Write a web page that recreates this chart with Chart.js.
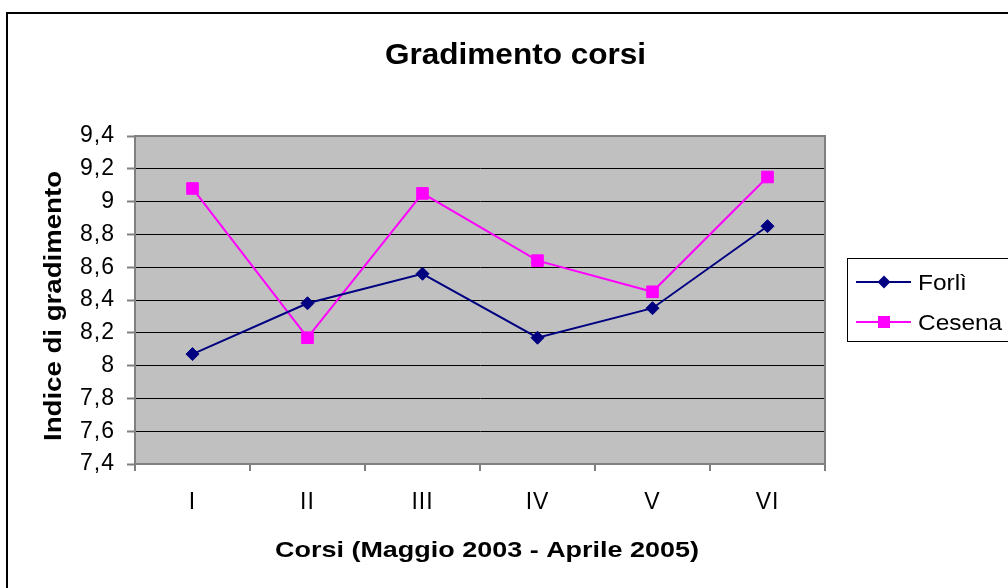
<!DOCTYPE html>
<html><head><meta charset="utf-8">
<script src="https://cdn.jsdelivr.net/npm/chart.js@4/dist/chart.umd.min.js"></script>
<style>html,body{margin:0;padding:0;background:#fff;overflow:hidden}canvas{display:block}</style>
</head><body>
<canvas id="c" width="1008" height="588"></canvas>
<script>
const categories = ['I', 'II', 'III', 'IV', 'V', 'VI'];
const forli = [8.07, 8.38, 8.56, 8.17, 8.35, 8.85];
const cesena = [9.08, 8.17, 9.05, 8.64, 8.45, 9.15];
const yTickLabels = ['7,4', '7,6', '7,8', '8', '8,2', '8,4', '8,6', '8,8', '9', '9,2', '9,4'];
const seriesNames = ['Forlì', 'Cesena'];
const chartTitle = 'Gradimento corsi';
const xTitle = 'Corsi (Maggio 2003 - Aprile 2005)';
const yTitle = 'Indice di gradimento';
const FONT = '"Liberation Sans", Arial, sans-serif';

function drawStretched(ctx, text, x, y, font, opts) {
  ctx.save();
  ctx.font = font;
  ctx.letterSpacing = '0px';
  const w = ctx.measureText(text).width;
  const sx = opts.targetW ? opts.targetW / w : (opts.sx || 1);
  ctx.translate(x, y);
  if (opts.rot) ctx.rotate(opts.rot);
  ctx.scale(sx, 1);
  ctx.textAlign = opts.align || 'center';
  ctx.textBaseline = 'alphabetic';
  ctx.fillStyle = '#000';
  ctx.fillText(text, 0, 0);
  ctx.restore();
}

const decor = {
  id: 'decor',
  beforeDraw(chart) {
    const { ctx, chartArea: a } = chart;
    ctx.save();
    ctx.fillStyle = '#ffffff';
    ctx.fillRect(0, 0, chart.width, chart.height);
    ctx.fillStyle = '#C0C0C0';
    ctx.fillRect(a.left, a.top, a.right - a.left, a.bottom - a.top);
    ctx.restore();
    ctx.letterSpacing = '1px';
  },
  beforeDatasetsDraw(chart) {
    const { ctx, chartArea: a } = chart;
    ctx.save();
    ctx.letterSpacing = '0px';
    ctx.strokeStyle = '#808080';
    ctx.lineWidth = 2;
    ctx.strokeRect(a.left, a.top, a.right - a.left, a.bottom - a.top);
    ctx.restore();
  },
  afterDraw(chart) {
    const ctx = chart.ctx;
    ctx.letterSpacing = '0px';
    ctx.save();
    ctx.strokeStyle = '#000';
    ctx.lineWidth = 2;
    ctx.strokeRect(7, 13, 1020, 600);
    ctx.restore();
    drawStretched(ctx, chartTitle, 515.5, 64, 'bold 30px ' + FONT, { targetW: 261 });
    drawStretched(ctx, xTitle, 487, 557, 'bold 22px ' + FONT, { targetW: 424 });
    drawStretched(ctx, yTitle, 61, 306, 'bold 24px ' + FONT, { targetW: 270, rot: -Math.PI / 2 });
    ctx.save();
    ctx.strokeStyle = '#000';
    ctx.lineWidth = 1;
    ctx.strokeRect(847.5, 258.5, 200, 83);
    ctx.restore();
    const rows = [282, 322];
    chart.data.datasets.forEach((ds, i) => {
      const y = rows[i];
      ctx.save();
      ctx.strokeStyle = ds.borderColor;
      ctx.lineWidth = ds.borderWidth;
      ctx.beginPath();
      ctx.moveTo(856, y);
      ctx.lineTo(911, y);
      ctx.stroke();
      ctx.fillStyle = ds.pointBackgroundColor;
      ctx.beginPath();
      if (ds.pointStyle === 'rectRot') {
        const r = 6.5;
        ctx.moveTo(884, y - r); ctx.lineTo(884 + r, y); ctx.lineTo(884, y + r); ctx.lineTo(884 - r, y);
        ctx.closePath();
      } else {
        ctx.rect(884 - 6, y - 6, 12, 12);
      }
      ctx.fill();
      ctx.restore();
      drawStretched(ctx, ds.label, 918, y + 7.5, '22px ' + FONT, { sx: 1.11, align: 'left' });
    });
  }
};

new Chart(document.getElementById('c'), {
  type: 'line',
  data: {
    labels: categories,
    datasets: [
      {
        label: seriesNames[0], data: forli,
        borderColor: '#000080', backgroundColor: '#000080',
        pointBackgroundColor: '#000080', pointBorderColor: '#000080',
        borderWidth: 2, pointStyle: 'rectRot', pointRadius: 6.5, pointBorderWidth: 1,
        tension: 0, fill: false
      },
      {
        label: seriesNames[1], data: cesena,
        borderColor: '#FF00FF', backgroundColor: '#FF00FF',
        pointBackgroundColor: '#FF00FF', pointBorderColor: '#FF00FF',
        borderWidth: 2, pointStyle: 'rect', pointRadius: 8.2, pointBorderWidth: 1,
        tension: 0, fill: false
      }
    ]
  },
  options: {
    responsive: false,
    animation: false,
    devicePixelRatio: 1,
    events: [],
    layout: { padding: { top: 136, right: 183, left: 0, bottom: 0 } },
    plugins: { legend: { display: false }, title: { display: false }, tooltip: { enabled: false } },
    scales: {
      x: {
        type: 'category',
        offset: true,
        afterFit(s) { s.height = 124; },
        grid: { offset: true, drawOnChartArea: false, drawTicks: true, tickLength: 7, color: '#808080', lineWidth: 2 },
        border: { display: true, color: '#808080', width: 2 },
        ticks: { color: '#000', font: { family: FONT, size: 23 }, padding: 18, maxRotation: 0, autoSkip: false }
      },
      y: {
        min: 7.4, max: 9.4,
        afterFit(s) { s.width = 135; },
        grid: { color: '#000', lineWidth: 1, drawTicks: true, tickLength: 8, tickColor: '#808080', tickWidth: 2 },
        border: { display: true, color: '#808080', width: 2 },
        ticks: {
          stepSize: 0.2, color: '#000', font: { family: FONT, size: 23 }, padding: 12,
          callback: (v, i) => yTickLabels[i]
        }
      }
    }
  },
  plugins: [decor]
});
</script>
</body></html>
